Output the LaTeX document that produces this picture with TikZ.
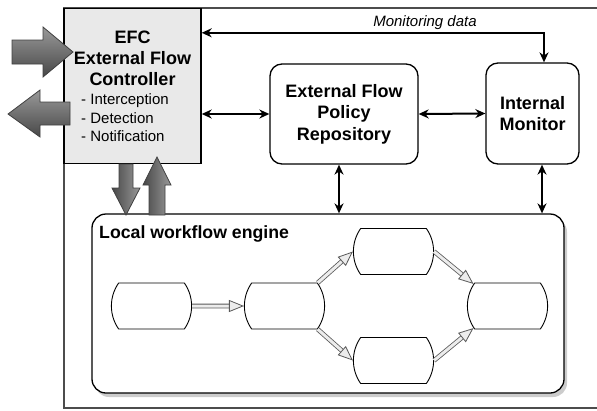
\documentclass[tikz,border=0pt]{standalone}
\usepackage{fontspec}
\setmainfont{Liberation Sans}
\usetikzlibrary{arrows.meta,shapes.misc,shadows,calc}
\begin{document}
\begin{tikzpicture}[x=1pt,y=-1pt,
  bx/.style={draw=black, line width=1.3pt, rounded corners=12pt, fill=white, align=center,
    font=\bfseries\fontsize{18}{21.5}\selectfont, inner sep=0pt},
  biarrow/.style={{Stealth[length=10pt,width=9pt]}-{Stealth[length=10pt,width=9pt]}, line width=2pt},
  wf/.style={rounded rectangle, rounded rectangle arc length=70, draw=black, line width=0.9pt,
    minimum width=65pt, minimum height=46pt, inner sep=0pt, fill=white},
  flow/.style={draw=gray!70!black, double=gray!15, double distance=3pt, line width=0.8pt,
    -{Triangle[length=15pt,width=12pt,fill=gray!15]}},
  blockh/.style={draw=black!75, line width=0.8pt, top color=black!40, bottom color=black!72},
  blockv/.style={draw=black!75, line width=0.8pt, left color=black!72, right color=black!40},
]
\useasboundingbox (0,0) rectangle (597,410);
% outer system box
\draw[line width=2pt, draw=black!70] (64,8) rectangle (604,408);
% EFC
\node[draw=black, line width=1.4pt, fill=gray!17, minimum width=137pt, minimum height=155pt, inner sep=0pt] (efc) at (132.5,86) {};
\node[anchor=base, align=center, font=\bfseries\fontsize{18}{21}\selectfont, inner sep=0pt] (efct) at (132.5,85) {EFC\\External Flow\\Controller};
\node[anchor=base west, align=left, font=\fontsize{15}{18.5}\selectfont, inner sep=0pt] (efcl) at (81,141.7) {- Interception\\- Detection\\- Notification};
% policy repository and monitor
\node[bx, minimum width=148pt, minimum height=100pt] (pol) at (344,114) {External Flow\\Policy\\Repository};
\node[bx, minimum width=93pt, minimum height=101pt] (mon) at (532.5,113.5) {Internal\\Monitor};
% engine
\node[draw=black, line width=1.3pt, rounded corners=14pt, fill=white, minimum width=472pt, minimum height=179pt,
  drop shadow={shadow xshift=3pt, shadow yshift=-4pt, opacity=0.4}] (eng) at (328,303.5) {};
\node[anchor=base west, font=\bfseries\fontsize{17.7}{20}\selectfont, inner sep=0pt] (engl) at (99,238) {Local workflow engine};
% workflow nodes
\node[wf] (a) at (151.5,306) {};
\node[wf] (b) at (284.5,306) {};
\node[wf] (c) at (393.5,251.5) {};
\node[wf] (d) at (393.5,360.5) {};
\node[wf] (e) at (507.5,306) {};
\draw[flow] (a) -- (b);
\draw[flow] (b.35) -- (c.west);
\draw[flow] (b.-35) -- (d.west);
\draw[flow] (c.east) -- (e.147);
\draw[flow] (d.east) -- (e.-147);
% block arrows
\draw[blockh] (12,40) -- (43,40) -- (43,27) -- (73,52) -- (43,77) -- (43,64) -- (12,64) -- cycle;
\draw[blockh] (70,102) -- (40,102) -- (40,90) -- (8,114) -- (40,137) -- (40,125) -- (70,125) -- cycle;
\draw[blockv] (119,164) -- (133,164) -- (133,188) -- (140,188) -- (126,215) -- (112,188) -- (119,188) -- cycle;
\draw[blockv] (149,215) -- (165,215) -- (165,185) -- (171,185) -- (157,157) -- (143,185) -- (149,185) -- cycle;
% black connectors
\coordinate (md) at ($(efc.north east)+(0,25)$);
\coordinate (mt) at ($(mon.north)+(11.5,0)$);
\draw[biarrow] (md) -| (mt);
\node[anchor=base, font=\itshape\fontsize{15}{18}\selectfont, inner sep=0pt] (mdl) at (425,26.5) {Monitoring data};
\draw[biarrow] (pol.west) -- (pol.west -| efc.east);
\draw[biarrow] (pol.east) -- (mon.west);
\coordinate (pv) at ($(pol.south)+(-5,0)$);
\coordinate (mv) at ($(mon.south)+(9.5,0)$);
\draw[biarrow] (pv) -- (pv |- eng.north);
\draw[biarrow] (mv) -- (mv |- eng.north);
\end{tikzpicture}
\end{document}
